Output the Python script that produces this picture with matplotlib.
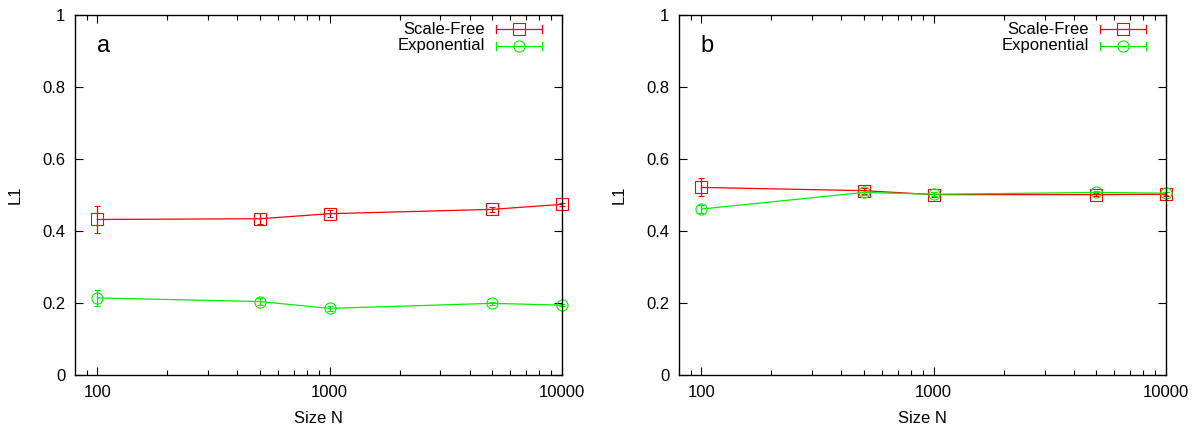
import matplotlib
matplotlib.use("Agg")
import matplotlib.pyplot as plt
from matplotlib.ticker import FixedLocator, NullFormatter

plt.rcParams['font.family'] = ['Liberation Sans', 'DejaVu Sans']

sizes = [100, 500, 1000, 5000, 10000]

a_sf = [0.432, 0.434, 0.448, 0.460, 0.474]
a_sf_err = [0.038, 0.015, 0.009, 0.006, 0.004]
a_exp = [0.214, 0.204, 0.185, 0.199, 0.194]
a_exp_err = [0.022, 0.010, 0.007, 0.004, 0.003]

b_sf = [0.521, 0.512, 0.501, 0.501, 0.502]
b_sf_err = [0.025, 0.008, 0.006, 0.005, 0.005]
b_exp = [0.461, 0.507, 0.502, 0.507, 0.505]
b_exp_err = [0.010, 0.008, 0.006, 0.004, 0.004]

panel_labels = ['a', 'b']
series_names = ['Scale-Free', 'Exponential']
RED = '#ff0000'
GREEN = '#00ee00'

fig = plt.figure(figsize=(12.03, 4.32), dpi=100)
positions = [[0.0623, 0.132, 0.4048, 0.8333], [0.5644, 0.132, 0.4048, 0.8333]]
data = [(a_sf, a_sf_err, a_exp, a_exp_err), (b_sf, b_sf_err, b_exp, b_exp_err)]

for i, (pos, (sf, sfe, ex, exe)) in enumerate(zip(positions, data)):
    ax = fig.add_axes(pos)
    ax.set_xscale('log')
    ax.errorbar(sizes, sf, yerr=sfe, color=RED, marker='s', mfc='none', ms=8,
                mew=0.8, lw=0.9, capsize=2.5, elinewidth=0.9, capthick=0.9, clip_on=False)
    ax.errorbar(sizes, ex, yerr=exe, color=GREEN, marker='o', mfc='none', ms=8,
                mew=0.8, lw=0.9, capsize=2.5, elinewidth=0.9, capthick=0.9, clip_on=False)
    ax.set_xlim(80, 10000)
    ax.set_ylim(0, 1)
    ax.xaxis.set_major_locator(FixedLocator([100, 1000, 10000]))
    ax.set_xticklabels(['100', '1000', '10000'])
    minors = [m * 10 ** e for e in (1, 2, 3) for m in range(2, 10)]
    minors = [m for m in minors if 85 <= m < 10000]
    ax.xaxis.set_minor_locator(FixedLocator(minors))
    ax.xaxis.set_minor_formatter(NullFormatter())
    ax.set_yticks([0, 0.2, 0.4, 0.6, 0.8, 1.0])
    ax.set_yticklabels(['0', '0.2', '0.4', '0.6', '0.8', '1'])
    ax.tick_params(which='both', direction='in', top=True, right=True, labelsize=12, pad=7)
    ax.tick_params(which='major', length=6, width=0.8)
    ax.tick_params(which='minor', length=3.5, width=0.8)
    for s in ax.spines.values():
        s.set_linewidth(1.0)
    ax.set_xlabel('Size N', fontsize=12, labelpad=8)
    ax.set_ylabel('L1', fontsize=12, labelpad=14)
    ax.text(0.045, 0.915, panel_labels[i], transform=ax.transAxes, fontsize=17, va='center', ha='left')

    # gnuplot-style legend
    for j, (name, col, mk) in enumerate(zip(series_names, [RED, GREEN], ['s', 'o'])):
        yy = 0.961 - j * 0.047
        x0, x1 = 0.864, 0.960
        ax.text(0.842, yy, name, transform=ax.transAxes, ha='right', va='center', fontsize=12)
        ax.plot([x0, x1], [yy, yy], transform=ax.transAxes, color=col, lw=0.9, clip_on=False)
        for xc in (x0, x1):
            ax.plot([xc, xc], [yy - 0.011, yy + 0.011], transform=ax.transAxes, color=col, lw=0.9, clip_on=False)
        ax.plot([(x0 + x1) / 2], [yy], transform=ax.transAxes, color=col, marker=mk, mfc='none',
                ms=8, mew=0.8, clip_on=False)

fig.savefig('out.png', dpi=100)
